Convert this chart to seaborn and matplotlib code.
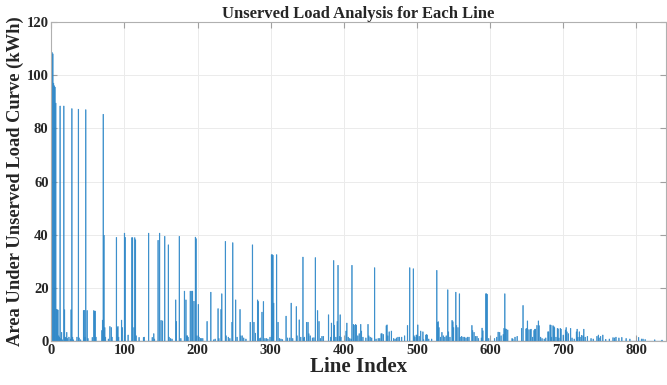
import matplotlib
matplotlib.use("Agg")
import matplotlib.pyplot as plt
import seaborn as sns
import pandas as pd

# Lines with non-zero unserved load (all other lines are zero)
line_index = [
    1, 2, 3, 4, 5, 6, 7, 8, 9, 10, 11, 12, 13, 14, 15, 17, 18, 19, 20, 21,
    22, 24, 26, 27, 28, 29, 30, 35, 37, 38, 40, 44, 45, 46, 47, 49, 50, 56, 58, 59,
    60, 61, 69, 70, 71, 72, 73, 74, 78, 80, 82, 83, 89, 90, 91, 92, 96, 97, 100, 101,
    105, 110, 111, 113, 114, 115, 116, 120, 126, 127, 133, 138, 140, 141, 146, 148, 150, 152, 155, 160,
    161, 163, 165, 170, 171, 175, 177, 182, 184, 185, 186, 187, 190, 192, 193, 195, 197, 198, 199, 201,
    202, 204, 205, 207, 213, 218, 222, 224, 228, 229, 232, 233, 238, 239, 242, 244, 247, 248, 252, 254,
    258, 259, 261, 263, 266, 272, 275, 277, 279, 282, 283, 285, 286, 288, 290, 292, 294, 296, 299, 301,
    302, 303, 304, 308, 310, 312, 314, 316, 321, 323, 326, 328, 330, 335, 336, 339, 341, 344, 345, 346,
    349, 351, 352, 354, 357, 359, 361, 364, 366, 368, 370, 372, 379, 382, 383, 386, 387, 389, 391, 392,
    394, 395, 396, 403, 404, 406, 408, 410, 411, 413, 414, 416, 417, 419, 421, 423, 424, 426, 430, 433,
    434, 436, 438, 442, 444, 447, 449, 451, 452, 454, 458, 459, 460, 462, 465, 468, 470, 472, 474, 476,
    479, 483, 487, 490, 495, 496, 497, 499, 500, 501, 503, 505, 508, 509, 512, 513, 514, 516, 520, 527,
    528, 529, 530, 532, 534, 536, 538, 540, 542, 543, 545, 548, 549, 550, 553, 554, 556, 558, 559, 561,
    563, 565, 567, 569, 571, 575, 576, 578, 580, 582, 584, 588, 589, 590, 594, 595, 596, 598, 606, 609,
    611, 613, 615, 618, 619, 620, 621, 622, 624, 630, 631, 634, 637, 643, 645, 649, 650, 651, 653, 655,
    656, 658, 660, 661, 662, 664, 666, 667, 669, 671, 674, 676, 679, 680, 682, 683, 684, 686, 687, 688,
    690, 692, 693, 694, 696, 697, 700, 703, 704, 705, 707, 710, 712, 715, 718, 719, 720, 722, 723, 725,
    727, 728, 730, 733, 738, 741, 746, 748, 749, 751, 754, 758, 763, 768, 770, 772, 776, 780, 786, 791,
    803, 807, 809, 812, 825, 835,
]
unserved_kwh = [
    108.5, 108.0, 97.0, 96.0, 95.5, 89.5, 12.0, 11.8, 11.7, 2.0, 1.5, 88.4, 1.0, 3.3, 0.5, 88.4, 11.8, 1.5, 1.2, 3.3,
    1.0, 1.5, 0.8, 11.8, 87.4, 1.5, 0.5, 1.5, 87.2, 1.2, 0.5, 11.5, 11.6, 1.5, 87.0, 11.5, 1.0, 1.4, 11.5, 11.2,
    11.3, 1.5, 4.0, 7.9, 85.3, 39.8, 5.1, 1.5, 0.8, 5.5, 5.1, 1.5, 39.0, 5.1, 5.5, 1.5, 7.9, 5.1, 40.6, 39.0,
    2.3, 38.9, 38.9, 5.1, 38.9, 38.1, 2.0, 1.4, 1.4, 1.5, 40.6, 1.4, 2.8, 0.8, 37.9, 40.6, 7.8, 7.6, 39.4, 36.2,
    1.5, 1.0, 0.8, 15.5, 7.4, 39.4, 1.0, 18.8, 15.5, 2.0, 2.0, 1.5, 18.8, 18.8, 18.8, 15.0, 39.1, 38.5, 2.0, 13.8,
    1.5, 1.0, 1.0, 1.0, 7.4, 18.4, 0.5, 0.8, 12.2, 1.0, 11.9, 17.8, 37.5, 2.0, 1.5, 1.0, 7.1, 37.0, 15.5, 1.5,
    11.9, 2.0, 2.0, 1.2, 0.8, 7.1, 36.2, 7.1, 3.0, 15.5, 14.9, 1.0, 1.2, 10.9, 14.9, 1.0, 1.0, 0.8, 1.5, 32.5,
    32.5, 32.3, 14.3, 32.5, 7.1, 1.0, 0.8, 0.6, 9.4, 1.2, 1.2, 14.3, 1.0, 13.0, 2.0, 8.0, 1.5, 31.6, 1.2, 1.5,
    7.1, 7.1, 2.8, 2.0, 1.2, 1.3, 31.4, 11.5, 7.4, 1.0, 1.8, 1.8, 9.9, 1.5, 6.8, 30.3, 6.0, 1.5, 7.4, 28.5,
    1.8, 9.9, 1.5, 3.8, 6.8, 1.5, 1.0, 0.8, 28.5, 6.3, 6.0, 6.3, 6.0, 2.0, 2.8, 6.3, 3.8, 1.5, 1.2, 6.3,
    2.0, 1.5, 1.2, 27.6, 0.8, 1.0, 1.0, 2.8, 2.8, 2.5, 5.8, 6.1, 2.0, 3.5, 3.8, 1.0, 0.8, 1.2, 1.5, 1.5,
    1.5, 2.0, 5.9, 27.6, 27.2, 2.0, 1.5, 2.3, 2.3, 6.1, 1.8, 3.8, 3.5, 0.6, 2.3, 2.5, 2.3, 0.8, 0.8, 26.6,
    7.1, 7.3, 5.1, 1.5, 3.3, 2.0, 1.5, 2.0, 19.3, 3.5, 1.5, 7.8, 7.3, 5.1, 18.4, 5.9, 5.1, 17.8, 1.5, 1.8,
    1.5, 1.5, 1.2, 1.5, 1.5, 5.9, 4.0, 3.3, 1.8, 1.8, 1.0, 1.2, 4.9, 3.9, 17.8, 17.8, 17.6, 1.0, 1.0, 1.5,
    3.4, 3.3, 2.0, 2.5, 4.8, 17.8, 4.6, 4.5, 4.2, 1.0, 0.8, 1.5, 1.8, 4.8, 13.4, 4.6, 4.8, 7.6, 4.3, 4.3,
    4.5, 1.5, 4.0, 4.5, 4.5, 5.9, 7.6, 5.8, 1.5, 1.0, 0.8, 1.2, 3.5, 3.5, 6.1, 6.0, 1.5, 5.8, 5.5, 5.1,
    1.5, 4.8, 4.6, 1.2, 4.8, 4.5, 2.3, 4.2, 5.1, 3.5, 2.8, 4.8, 1.2, 0.8, 3.5, 4.5, 1.5, 3.5, 1.5, 2.2,
    2.0, 4.5, 1.5, 1.8, 1.0, 0.8, 1.8, 2.3, 1.2, 1.8, 2.3, 0.7, 0.8, 1.3, 1.2, 1.5, 1.2, 1.4, 1.0, 0.8,
    1.4, 0.8, 0.8, 0.6, 0.5, 0.4,
]

x_ticks = [0, 100, 200, 300, 400, 500, 600, 700, 800]
y_ticks = [0, 20, 40, 60, 80, 100, 120]

df = pd.DataFrame({"line": line_index, "kwh": unserved_kwh})

sns.set_style("white")
plt.rcParams["font.family"] = ["Liberation Serif", "DejaVu Serif"]
plt.rcParams["font.weight"] = "bold"

fig = plt.figure(figsize=(6.67, 3.85), dpi=100)
ax = fig.add_axes([0.077, 0.114, 0.921, 0.829])

sns.histplot(data=df, x="line", weights="kwh", discrete=True, shrink=1.0,
             color="#0072BD", alpha=1.0, linewidth=0.35, edgecolor="#3d8fcc",
             snap=False, ax=ax)

ax.set_xlim(0, 840)
ax.set_ylim(0, 120)
ax.set_xticks(x_ticks)
ax.set_yticks(y_ticks)
ax.set_xticklabels([str(t) for t in x_ticks], fontsize=10.5, fontweight="bold")
ax.set_yticklabels([str(t) for t in y_ticks], fontsize=10.5, fontweight="bold")
ax.grid(True, color="#ebebeb", linewidth=0.7)
ax.set_axisbelow(True)
ax.tick_params(direction="in", length=4, color="#a0a0a0", pad=2,
               top=True, right=True, bottom=True, left=True)
for s in ax.spines.values():
    s.set_color("#b0b0b0")
    s.set_linewidth(0.8)

ax.set_title("Unserved Load Analysis for Each Line", fontsize=12, fontweight="bold", pad=3)
ax.set_xlabel("Line Index", fontsize=15, fontweight="bold", labelpad=0)
ax.set_ylabel("Area Under Unserved Load Curve (kWh)", fontsize=13.3, fontweight="bold", labelpad=2)

fig.savefig("out.png", dpi=100)
